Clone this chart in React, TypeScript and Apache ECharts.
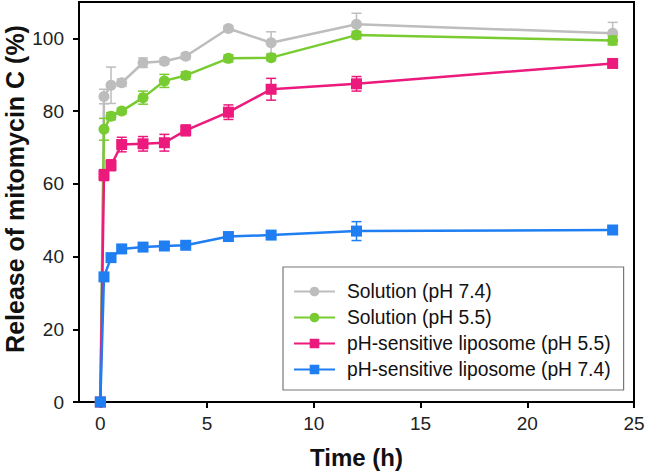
import React, { useEffect, useRef } from "react";
import * as echarts from "echarts";

const times = [0, 0.17, 0.5, 1, 2, 3, 4, 6, 8, 12, 24];

const seriesNames = [
  "Solution (pH 7.4)",
  "Solution (pH 5.5)",
  "pH-sensitive liposome (pH 5.5)",
  "pH-sensitive liposome (pH 7.4)",
];
const seriesColors = ["#bdbdbd", "#78cc32", "#ec1a7c", "#1f7ff2"];
const seriesSymbols = ["circle", "circle", "rect", "rect"];

const solution74 = [0, 84.0, 87.1, 87.8, 93.3, 93.7, 95.1, 102.7, 98.8, 103.9, 101.4];
const solution74Err = [0, 2, 5, 1, 1.3, 0.8, 0.8, 0.8, 3, 3, 3];

const solution55 = [0, 75.0, 78.6, 80.0, 83.7, 88.3, 89.8, 94.5, 94.7, 100.9, 99.4];
const solution55Err = [0, 3, 1, 0.8, 1.8, 1.8, 1, 1, 0.8, 1, 1.2];

const lipo55 = [0, 62.4, 65.1, 70.8, 71.0, 71.3, 74.7, 79.7, 86.0, 87.5, 93.1];
const lipo55Err = [0, 1.5, 1.5, 2, 2, 2.3, 1.5, 2, 3, 2, 1];

const lipo74 = [0, 34.4, 39.7, 42.1, 42.6, 42.9, 43.1, 45.5, 45.9, 47.0, 47.3];
const lipo74Err = [0, 1, 1, 1, 0.8, 0.8, 0.8, 0.8, 0.8, 2.6, 0.7];

const xTicks = [0, 5, 10, 15, 20, 25];
const yTicks = [0, 20, 40, 60, 80, 100];

const FONT = 'Arial, "Liberation Sans", Helvetica, sans-serif';

export default function App() {
  const ref = useRef<HTMLDivElement>(null);

  useEffect(() => {
    if (!ref.current) return;
    const chart = echarts.init(ref.current, undefined, { renderer: "svg" });

    const allValues = [solution74, solution55, lipo55, lipo74];
    const allErr = [solution74Err, solution55Err, lipo55Err, lipo74Err];

    const series: any[] = [];
    allValues.forEach((vals, si) => {
      const color = seriesColors[si];
      const errData = times.map((t, i) => [t, vals[i] - allErr[si][i], vals[i] + allErr[si][i]]);
      series.push({
        type: "custom",
        name: seriesNames[si] + " err",
        data: errData.filter((d) => d[2] - d[1] > 0),
        silent: true,
        z: 2 + si * 2,
        renderItem: (params: any, api: any) => {
          const x = api.value(0);
          const lo = api.coord([x, api.value(1)]);
          const hi = api.coord([x, api.value(2)]);
          const hw = 5;
          const style = { stroke: color, lineWidth: 1.5, fill: "none" };
          return {
            type: "group",
            children: [
              { type: "line", shape: { x1: lo[0], y1: lo[1], x2: hi[0], y2: hi[1] }, style },
              { type: "line", shape: { x1: lo[0] - hw, y1: lo[1], x2: lo[0] + hw, y2: lo[1] }, style },
              { type: "line", shape: { x1: hi[0] - hw, y1: hi[1], x2: hi[0] + hw, y2: hi[1] }, style },
            ],
          };
        },
      });
      series.push({
        type: "line",
        name: seriesNames[si],
        data: times.map((t, i) => [t, vals[i]]),
        symbol: seriesSymbols[si],
        symbolSize: 11,
        showSymbol: true,
        z: 3 + si * 2,
        lineStyle: { color, width: 2.5 },
        itemStyle: { color },
      });
    });

    chart.setOption({
      animation: false,
      backgroundColor: "#ffffff",
      grid: {
        left: 79,
        right: 11,
        top: 2,
        bottom: 70,
        show: true,
        borderColor: "#000",
        borderWidth: 2,
        containLabel: false,
        outerBoundsMode: "none",
      },
      legend: {
        data: seriesNames,
        orient: "vertical",
        left: 283,
        top: 267,
        padding: [14, 13, 10, 10],
        itemGap: 5,
        itemWidth: 41,
        itemHeight: 12,
        borderColor: "#777",
        borderWidth: 1.2,
        backgroundColor: "#fff",
        textStyle: {
          fontSize: 19.3,
          fontFamily: FONT,
          color: "#111",
          lineHeight: 21,
          padding: [0, 0, 0, 7],
        },
      },
      xAxis: {
        type: "value",
        min: -1,
        max: 25,
        name: "Time (h)",
        nameLocation: "middle",
        nameGap: 43,
        nameMoveOverlap: false,
        nameTextStyle: { fontSize: 24, fontWeight: "bold", fontFamily: FONT, color: "#111" },
        axisLine: { show: true, onZero: false, lineStyle: { color: "#000", width: 2 } },
        axisTick: { show: true, length: 6, inside: false, lineStyle: { color: "#000", width: 2 }, customValues: xTicks },
        axisLabel: { fontSize: 19, fontFamily: FONT, color: "#222", margin: 12, customValues: xTicks },
        splitLine: { show: false },
      },
      yAxis: {
        type: "value",
        min: 0,
        max: 110,
        name: "Release of mitomycin C (%)",
        nameLocation: "middle",
        nameGap: 52,
        nameMoveOverlap: false,
        nameTextStyle: {
          fontSize: 25,
          fontWeight: "bold",
          fontFamily: FONT,
          color: "#111",
          padding: [0, 0, 0, 26],
        },
        axisLine: { show: true, onZero: false, lineStyle: { color: "#000", width: 2 } },
        axisTick: { show: true, length: 6, inside: false, lineStyle: { color: "#000", width: 2 }, customValues: yTicks },
        axisLabel: { fontSize: 19, fontFamily: FONT, color: "#222", margin: 15, customValues: yTicks },
        splitLine: { show: false },
      },
      series,
    });

    return () => chart.dispose();
  }, []);

  return (
    <div
      ref={ref}
      style={{ position: "fixed", left: 0, top: 0, width: 645, height: 472, background: "#fff" }}
    />
  );
}
